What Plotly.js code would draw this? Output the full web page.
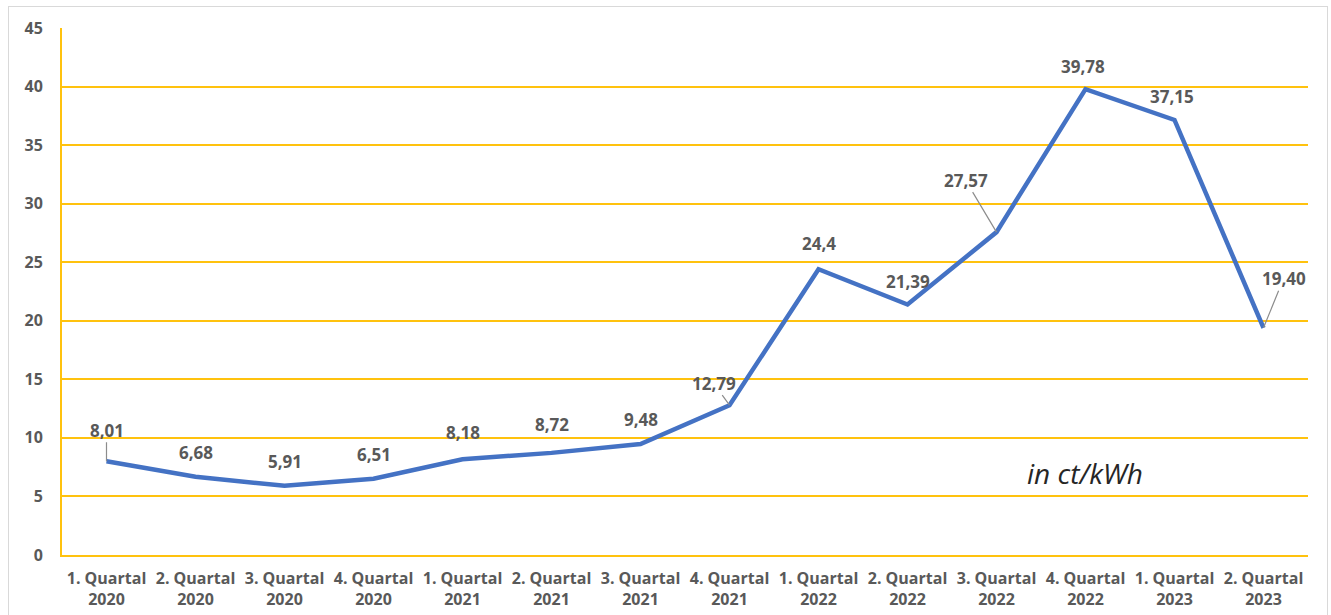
<!DOCTYPE html>
<html>
<head>
<meta charset="utf-8">
<script src="https://cdn.plot.ly/plotly-3.0.1.min.js"></script>
<style>
html,body{margin:0;padding:0;background:#fff;}
#wrap{position:relative;width:1331px;height:615px;}
#chart{width:1331px;height:615px;}
#frame{position:absolute;left:8px;top:6px;width:1318px;height:620px;border:1.5px solid #d9d9d9;pointer-events:none;}
</style>
</head>
<body>
<div id="wrap"><div id="chart"></div><div id="frame"></div></div>
<script>
const categories = ["1. Quartal<br>2020","2. Quartal<br>2020","3. Quartal<br>2020","4. Quartal<br>2020",
  "1. Quartal<br>2021","2. Quartal<br>2021","3. Quartal<br>2021","4. Quartal<br>2021",
  "1. Quartal<br>2022","2. Quartal<br>2022","3. Quartal<br>2022","4. Quartal<br>2022",
  "1. Quartal<br>2023","2. Quartal<br>2023"];
const values = [8.01,6.68,5.91,6.51,8.18,8.72,9.48,12.79,24.4,21.39,27.57,39.78,37.15,19.40];
const valueLabels = ["8,01","6,68","5,91","6,51","8,18","8,72","9,48","12,79","24,4","21,39","27,57","39,78","37,15","19,40"];
const unitText = "in ct/kWh";

// label offsets (pixels) from the point, and whether a leader line is drawn
const labelDx = [0,0,0,0,0,0,0,-16,0,0,-31,-3,-3,20];
const labelDy = [-31,-24,-24,-24,-27,-28,-24,-22,-26,-23,-52,-23,-23,-49];
const leader  = [true,false,false,false,false,false,false,true,false,false,true,false,false,true];

const gold = "#FFC20E";
const grey = "#595959";

const annotations = values.map((v,i)=>({
  x: categories[i], y: v, xref:'x', yref:'y',
  text: valueLabels[i],
  showarrow: true, arrowhead: 0, arrowwidth: 1.2, standoff: 0, startstandoff: 0,
  arrowcolor: leader[i] ? "#8c8c8c" : "rgba(0,0,0,0)",
  ax: labelDx[i], ay: labelDy[i],
  font: {family:"Open Sans, sans-serif", size:17, color:grey, weight:700},
  borderpad: 0
}));
annotations.push({
  xref:'paper', yref:'paper', x: (1085-62)/1246, y: (555-473)/527,
  text: "<i>"+unitText+"</i>", showarrow:false,
  font:{family:"Open Sans, sans-serif", size:28, color:"#262626"},
  xanchor:'center', yanchor:'middle'
});

Plotly.newPlot('chart', [{
  x: categories, y: values, type:'scatter', mode:'lines',
  line:{color:"#4472C4", width:4.5},
  hoverinfo:'skip'
}], {
  width:1331, height:615,
  margin:{l:62, r:23, t:28, b:60},
  paper_bgcolor:"#fff", plot_bgcolor:"#fff",
  showlegend:false,
  xaxis:{
    type:'category', range:[-0.5,13.5],
    showgrid:false, showline:true, linecolor:gold, linewidth:2,
    ticks:'', tickfont:{family:"Open Sans, sans-serif", size:16, color:grey, weight:700},
    ticklabelstandoff: 8
  },
  yaxis:{
    range:[0,45], dtick:5, tick0:0,
    showgrid:true, gridcolor:gold, gridwidth:2,
    zeroline:true, zerolinecolor:gold, zerolinewidth:2,
    showline:true, linecolor:gold, linewidth:2,
    ticks:'', tickfont:{family:"Open Sans, sans-serif", size:16, color:grey, weight:700},
    ticklabelstandoff: 14
  },
  annotations: annotations
}, {displayModeBar:false, staticPlot:true});
</script>
</body>
</html>
